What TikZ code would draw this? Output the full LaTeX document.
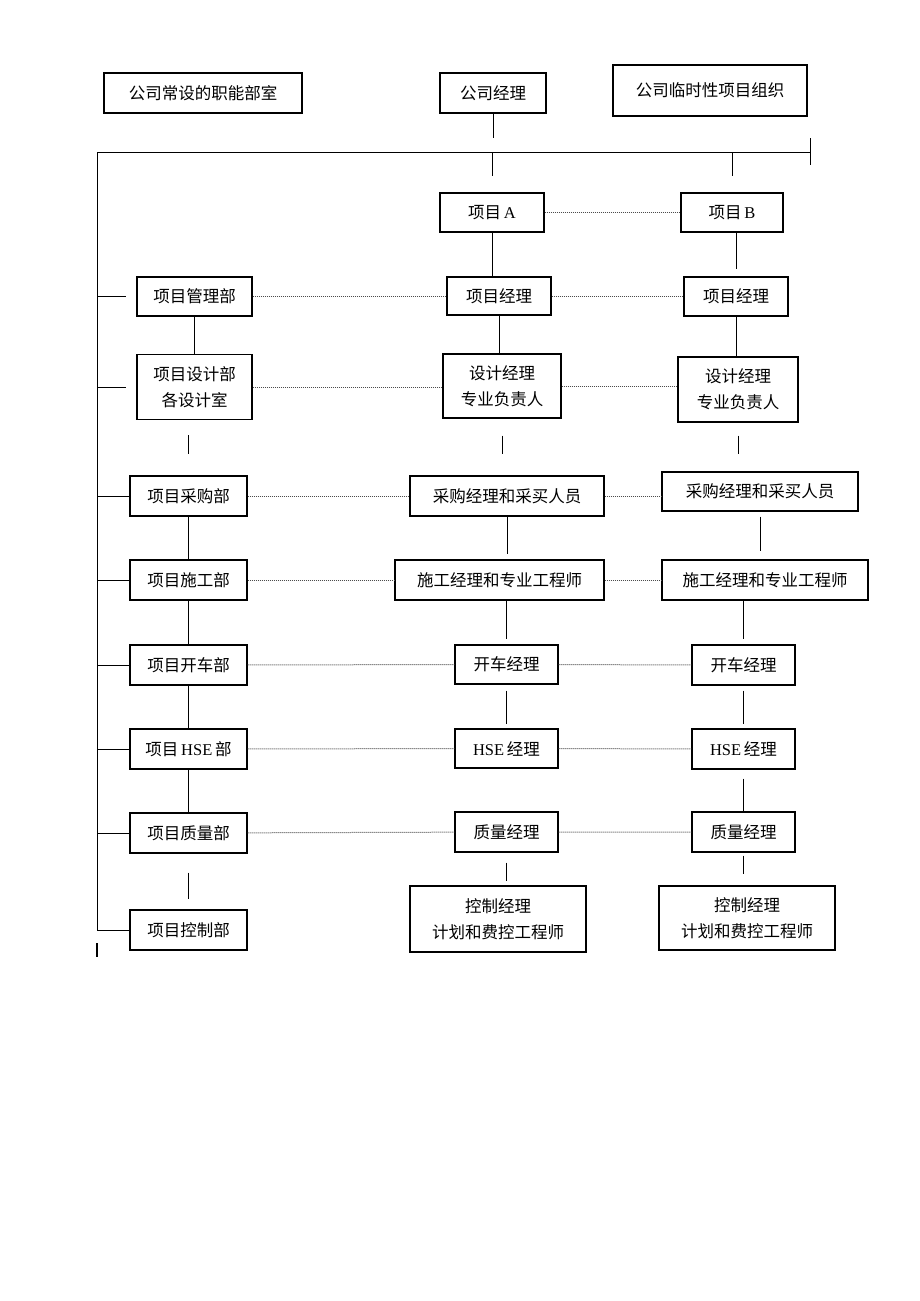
\documentclass[tikz,border=0pt]{standalone}
\usepackage{fontspec}
\setmainfont{Noto Sans CJK SC}
\newfontfamily\tnr{Liberation Serif}
\begin{document}
\begin{tikzpicture}[x=1pt,y=-1pt,
	bx/.style={draw,line width=1.1pt,minimum width=#1,minimum height=40,inner sep=0pt,align=center,font=\fontsize{16.5}{26}\selectfont},
	bx2/.style={bx=#1,minimum height=65},
	ln/.style={line width=0.9pt},
	dt/.style={densely dotted,line width=1pt,black!70}]
	\useasboundingbox (0,0) rectangle (920,1301);
	% top row
	\node(gs)[bx=198] at (203,93) {公司常设的职能部室};
	\node(jl)[bx=106] at (493,93) {公司经理};
	\node(lz)[bx=194,minimum height=51] at (710,90.5) {公司临时性项目组织};
	\coordinate(tl) at (97,152);
	\coordinate(tr) at (810,152);
	\coordinate(bl) at (97,930);
	\coordinate(tk1) at (810,138);
	\coordinate(tk2) at (810,165);
	\coordinate(m1) at (97,943);
	\coordinate(m2) at (97,957);
	% projects
	\node(pa)[bx=104,minimum height=39] at (492,212.5) {项目\,{\tnr A}};
	\node(pb)[bx=102,minimum height=39] at (732,212.5) {项目\,{\tnr B}};
	% departments
	\node(d1)[bx=115,minimum height=39] at (194.5,296.5) {项目管理部};
	\node(d2)[bx2=115] at (194.5,387) {项目设计部\\各设计室};
	\node(d3)[bx=117] at (188.5,496) {项目采购部};
	\node(d4)[bx=117] at (188.5,580) {项目施工部};
	\node(d5)[bx=117] at (188.5,665) {项目开车部};
	\node(d6)[bx=117] at (188.5,749) {项目\,{\tnr HSE}\,部};
	\node(d7)[bx=117] at (188.5,833) {项目质量部};
	\node(d8)[bx=117] at (188.5,930) {项目控制部};
	% project A
	\node(a1)[bx=104,minimum height=38] at (499,296) {项目经理};
	\node(a2)[bx2=118,minimum height=64] at (502,386) {设计经理\\专业负责人};
	\node(a3)[bx=194] at (507,496) {采购经理和采买人员};
	\node(a4)[bx=209] at (499.5,580) {施工经理和专业工程师};
	\node(a5)[bx=103,minimum height=39] at (506.5,664.5) {开车经理};
	\node(a6)[bx=103,minimum height=39] at (506.5,748.5) {{\tnr HSE}\,经理};
	\node(a7)[bx=103] at (506.5,832) {质量经理};
	\node(a8)[bx2=176,minimum height=66] at (498,919) {控制经理\\计划和费控工程师};
	% project B
	\node(b1)[bx=104,minimum height=39] at (736,296.5) {项目经理};
	\node(b2)[bx2=120] at (738,389.5) {设计经理\\专业负责人};
	\node(b3)[bx=196,minimum height=39] at (760,491.5) {采购经理和采买人员};
	\node(b4)[bx=206] at (765,580) {施工经理和专业工程师};
	\node(b5)[bx=103] at (743.5,665) {开车经理};
	\node(b6)[bx=103] at (743.5,749) {{\tnr HSE}\,经理};
	\node(b7)[bx=103] at (743.5,832) {质量经理};
	\node(b8)[bx2=176,minimum height=64] at (747,918) {控制经理\\计划和费控工程师};
	% frame lines
	\draw[ln,shorten >=14] (jl) -- (jl |- tl);
	\draw[ln] (tl) -- (tr);
	\draw[ln] (tk1) -- (tk2);
	\draw[ln] (tl) -- (bl);
	\draw[line width=1.6pt] (m1) -- (m2);
	\draw[ln,shorten >=16] (pa |- tl) -- (pa);
	\draw[ln,shorten >=16] (pb |- tl) -- (pb);
	\foreach \d in {d1,d2}
		\draw[ln,shorten >=10] (\d.west -| tl) -- (\d.west);
	\foreach \d in {d3,d4,d5,d6,d7,d8}
		\draw[ln] (\d.west -| tl) -- (\d.west);
	% department column
	\draw[ln] (d1) -- (d2);
	\draw[ln,shorten <=15,shorten >=21] (d2.south -| d3) -- (d3);
	\draw[ln] (d3) -- (d4) -- (d5) -- (d6) -- (d7);
	\draw[ln,shorten <=19,shorten >=10] (d7) -- (d8);
	% column A
	\draw[ln] (pa.south) -- (pa.south |- a1.north);
	\draw[ln] (a1.south) -- (a1.south |- a2.north);
	\draw[ln,shorten <=17,shorten >=21] (a2.south) -- (a2.south |- a3.north);
	\draw[ln,shorten >=5] (a3.south) -- (a3.south |- a4.north);
	\draw[ln,shorten >=5] (a4.south -| a5) -- (a5.north);
	\draw[ln,shorten <=6,shorten >=4] (a5) -- (a6);
	\draw[ln,shorten <=10,shorten >=4] (a7.south) -- (a7.south |- a8.north);
	% column B
	\draw[ln,shorten >=7] (pb.south -| b1) -- (b1.north);
	\draw[ln] (b1.south) -- (b1.south |- b2.north);
	\draw[ln,shorten <=13,shorten >=17] (b2.south) -- (b2.south |- b3.north);
	\draw[ln,shorten <=5,shorten >=8] (b3.south) -- (b3.south |- b4.north);
	\draw[ln,shorten >=5] (b4.south -| b5) -- (b5.north);
	\draw[ln,shorten <=5,shorten >=4] (b5) -- (b6);
	\draw[ln,shorten <=9] (b6) -- (b7);
	\draw[line width=1.8pt,shorten <=3,shorten >=11] (b7.south) -- (b7.south |- b8.north);
	% dotted links
	\draw[dt] (pa) -- (pb);
	\draw[dt] (d1) -- (d1 -| a1.west) (a1) -- (a1 -| b1.west);
	\draw[dt] (d2) -- (d2 -| a2.west) (a2) -- (a2 -| b2.west);
	\draw[dt] (d3) -- (a3) (a3) -- (a3 -| b3.west);
	\draw[dt] (d4) -- (a4) -- (b4);
	\draw[dt] (d5) -- (a5) -- (b5);
	\draw[dt] (d6) -- (a6) -- (b6);
	\draw[dt] (d7) -- (a7) -- (b7);
\end{tikzpicture}
\end{document}
